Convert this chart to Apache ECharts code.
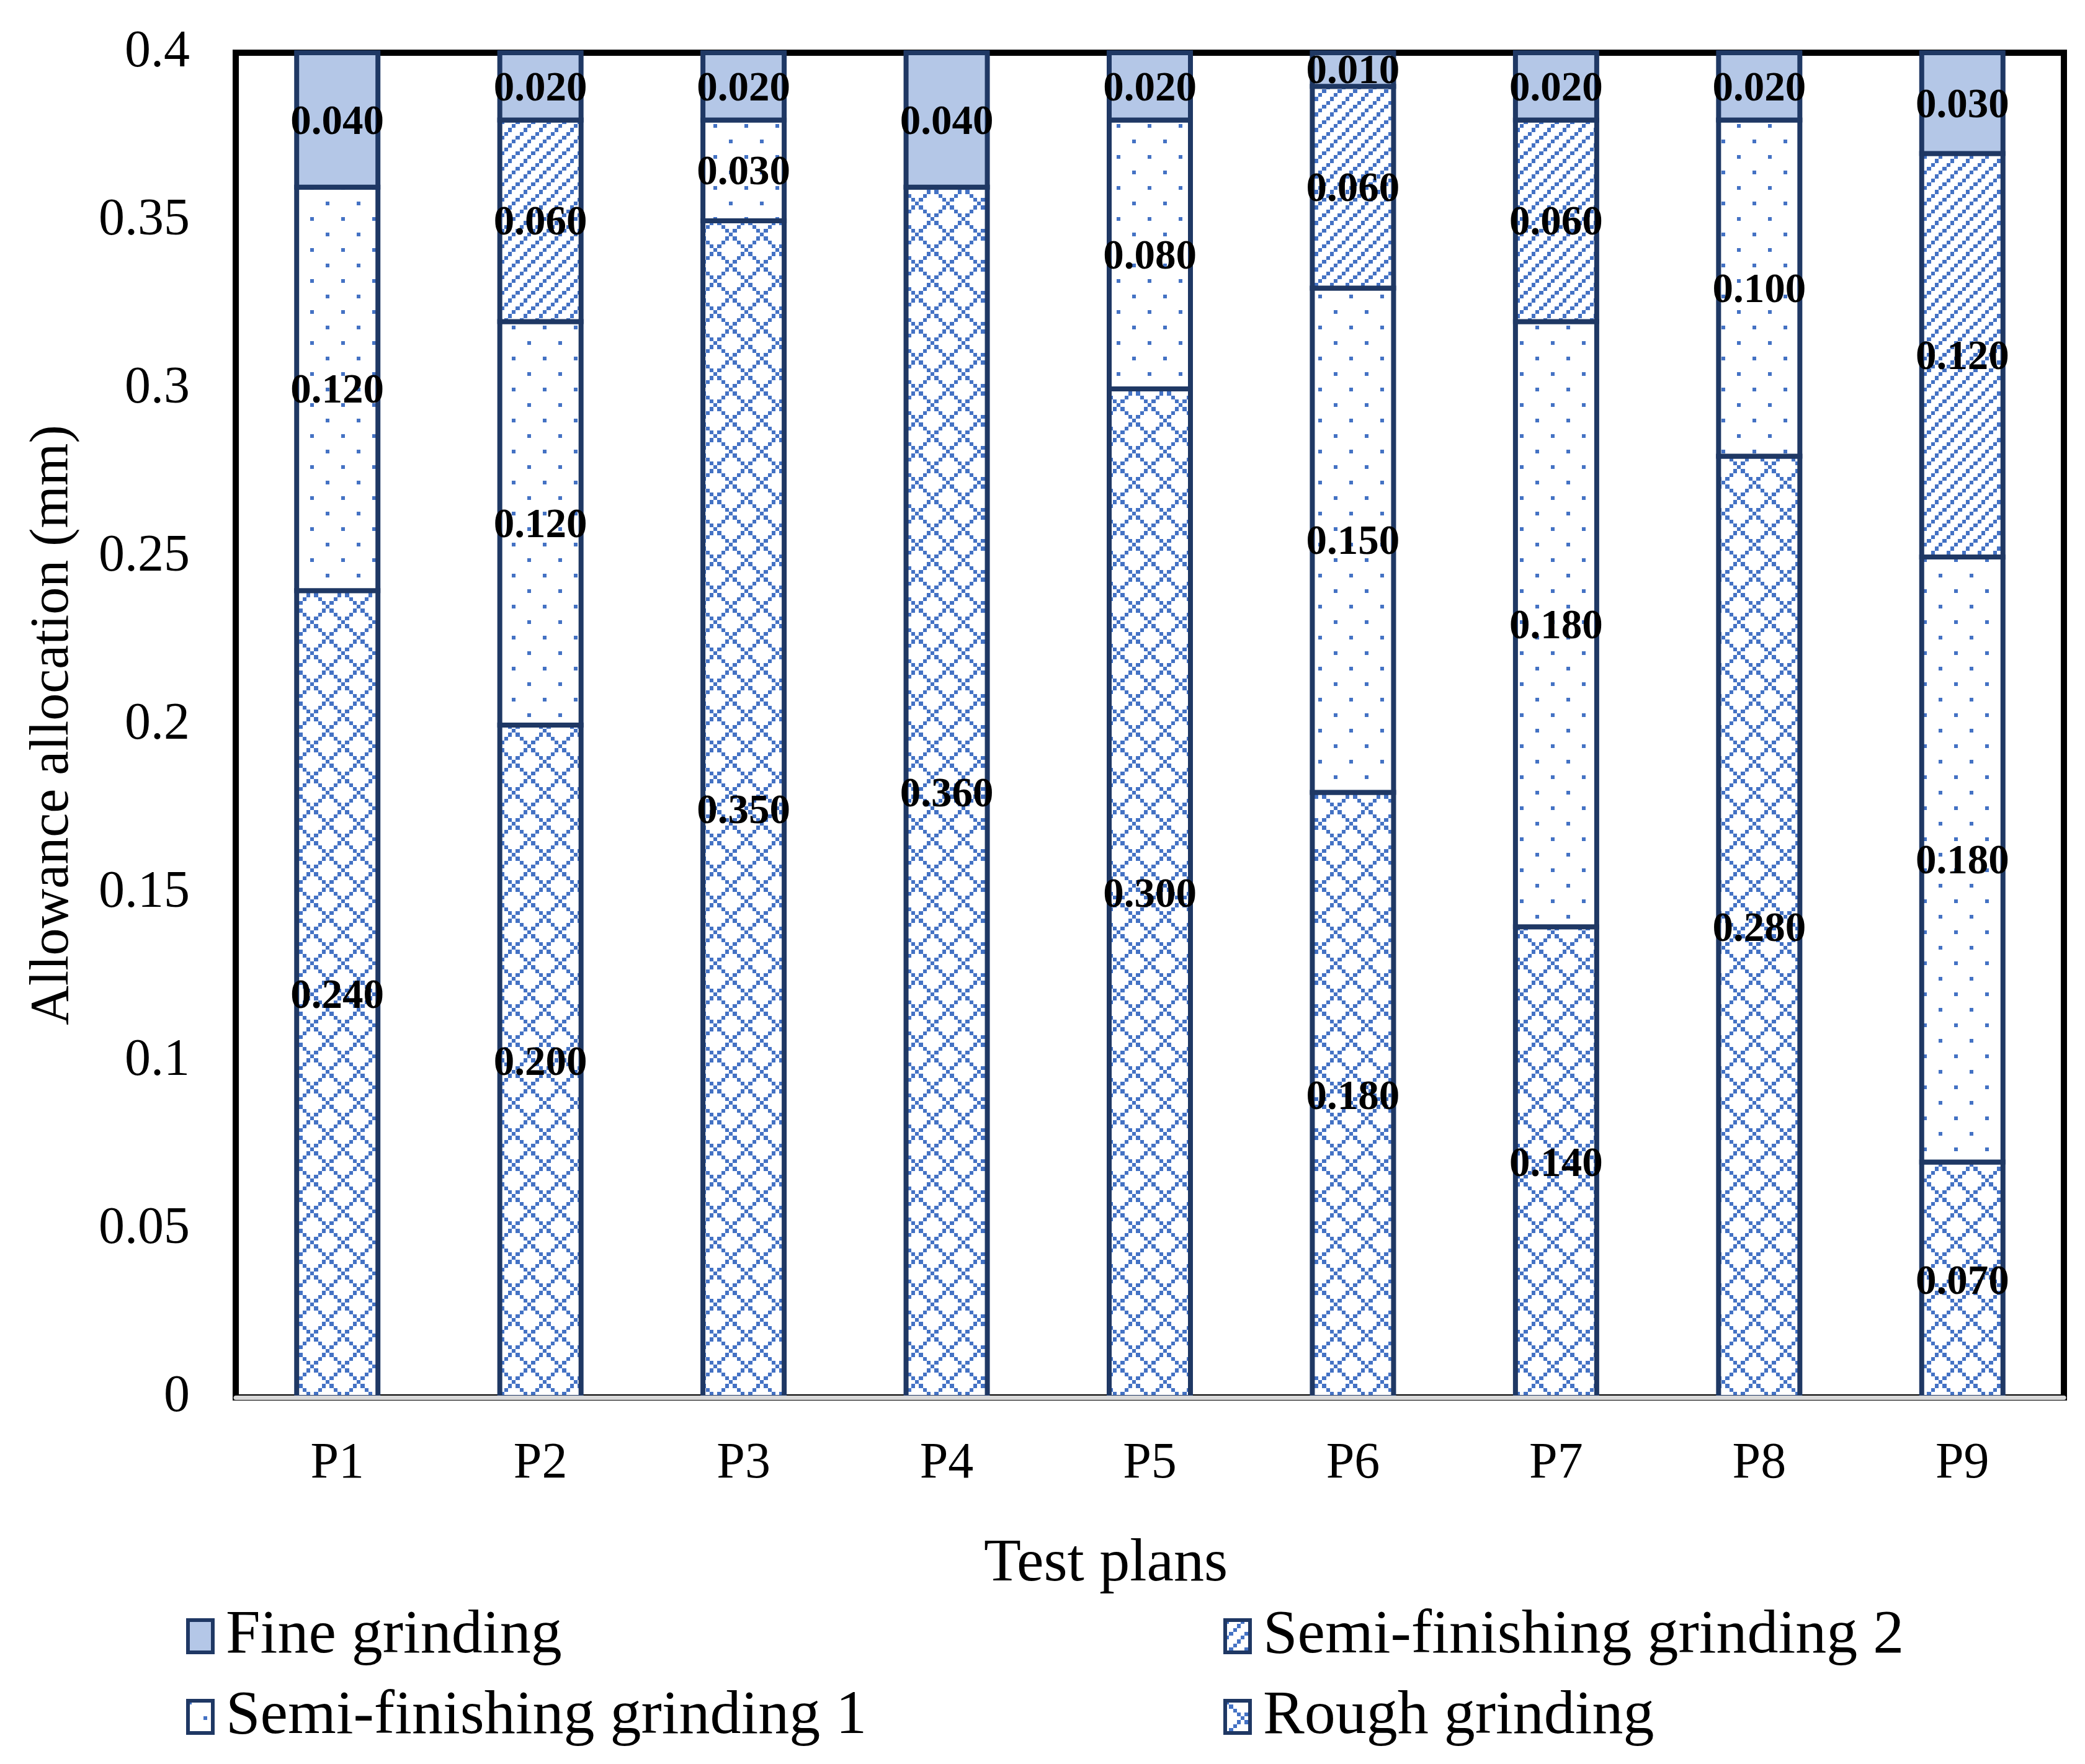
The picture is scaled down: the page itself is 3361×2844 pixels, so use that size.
<!DOCTYPE html>
<html>
<head>
<meta charset="utf-8">
<title>Allowance allocation</title>
<script src="https://cdn.jsdelivr.net/npm/echarts@6/dist/echarts.min.js"></script>
<style>
    html, body { margin: 0; padding: 0; background: #ffffff; }
    #echartContainer { width: 3361px; height: 2844px; }
</style>
</head>
<body>
<div id="echartContainer"></div>
<script>
/* globals echarts */

// =========================================================================
// DATA
// =========================================================================

var plans = ['P1', 'P2', 'P3', 'P4', 'P5', 'P6', 'P7', 'P8', 'P9'];

var roughGrinding = [0.24, 0.20, 0.35, 0.36, 0.30, 0.18, 0.14, 0.28, 0.07];
var semiFinishing1 = [0.12, 0.12, 0.03, null, 0.08, 0.15, 0.18, 0.10, 0.18];
var semiFinishing2 = [null, 0.06, null, null, null, 0.06, 0.06, null, 0.12];
var fineGrinding = [0.04, 0.02, 0.02, 0.04, 0.02, 0.01, 0.02, 0.02, 0.03];

var yMin = 0;
var yMax = 0.4;
var yStep = 0.05;

(function () {

    "use strict";

    var FONT = "'Liberation Serif', 'Times New Roman', serif";
    var BLUE = '#4472C4';
    var NAVY = '#1F3864';
    var BAR_WIDTH = 131;
    var BORDER = 8;

    // Excel-like pattern fills: 8x8 cell tile, cells of 6.25px
    var makePattern = function makePattern(cellOn) {
        var size = 50, cell = size / 8;
        var canvas = document.createElement('canvas');
        canvas.width = size;
        canvas.height = size;
        var ctx = canvas.getContext('2d');
        ctx.fillStyle = '#ffffff';
        ctx.fillRect(0, 0, size, size);
        ctx.fillStyle = BLUE;
        for (var i = 0; i < 8; i++) {
            for (var j = 0; j < 8; j++) {
                if (cellOn(i, j)) {
                    var x0 = Math.round(i * cell), y0 = Math.round(j * cell);
                    var x1 = Math.round((i + 1) * cell), y1 = Math.round((j + 1) * cell);
                    ctx.fillRect(x0, y0, x1 - x0, y1 - y0);
                }
            }
        }
        return { image: canvas, repeat: 'repeat' };
    };

    var diamondFill = makePattern(function (i, j) {
        return (i - j + 8) % 8 === 0 || (i + j) % 8 === 0;
    });
    var dotFill = makePattern(function (i, j) {
        return (i === 0 && j === 0) || (i === 4 && j === 4);
    });
    var diagonalFill = makePattern(function (i, j) {
        return (i + j) % 4 === 0;
    });

    // running stack base per category (bottom to top)
    var stackBase = plans.map(function () { return 0; });

    // ECharts bars inset their border, so stacked dividers would double;
    // a custom series draws the border centred on the segment edge instead
    var makeSeries = function makeSeries(name, values, fill) {
        var data = [];
        values.forEach(function (v, i) {
            if (v == null) {
                return;
            }
            data.push([i, stackBase[i] + v, stackBase[i], v]);
            stackBase[i] += v;
        });
        return {
            name: name,
            type: 'custom',
            itemStyle: { color: fill, borderColor: NAVY, borderWidth: BORDER },
            encode: { x: 0, y: 1 },
            data: data,
            renderItem: function (params, api) {
                var top = api.coord([api.value(0), api.value(1)]);
                var base = api.coord([api.value(0), api.value(2)]);
                return {
                    type: 'rect',
                    shape: {
                        x: top[0] - BAR_WIDTH / 2,
                        y: top[1],
                        width: BAR_WIDTH,
                        height: base[1] - top[1]
                    },
                    style: { fill: fill, stroke: NAVY, lineWidth: BORDER },
                    textContent: {
                        style: {
                            text: api.value(3).toFixed(3),
                            fill: '#000000',
                            font: 'bold 67px ' + FONT
                        }
                    },
                    textConfig: { position: 'inside', offset: [0, 5] }
                };
            }
        };
    };

    var legendBase = {
        orient: 'vertical',
        top: 2583,
        itemWidth: 40,
        itemHeight: 52,
        itemGap: 30,
        icon: 'rect',
        selectedMode: false,
        itemStyle: { borderColor: NAVY, borderWidth: 6 },
        textStyle: {
            fontFamily: FONT,
            fontSize: 100,
            lineHeight: 98,
            color: '#000000',
            padding: [0, 0, 0, 16]
        }
    };

    var chart = echarts.init(document.getElementById('echartContainer'), null, { renderer: 'canvas' });

    chart.setOption({
        backgroundColor: '#ffffff',
        animation: false,
        grid: {
            left: 380,
            right: 34,
            top: 85,
            bottom: 591,
            show: true,
            borderColor: '#000000',
            borderWidth: 10,
            backgroundColor: 'transparent'
        },
        legend: [
            Object.assign({}, legendBase, { left: 295, data: ['Fine grinding', 'Semi-finishing grinding 1'] }),
            Object.assign({}, legendBase, { left: 1967, data: ['Semi-finishing grinding 2', 'Rough grinding'] })
        ],
        xAxis: {
            type: 'category',
            data: plans,
            z: 5,
            name: 'Test plans',
            nameLocation: 'middle',
            nameGap: 220,
            nameTextStyle: {
                fontFamily: FONT,
                fontSize: 98,
                color: '#000000',
                padding: [0, 142, 0, 0]
            },
            axisLine: { show: true, lineStyle: { color: '#D9D9D9', width: 7 } },
            axisTick: { show: false },
            axisLabel: {
                margin: 66,
                fontFamily: FONT,
                fontSize: 82,
                color: '#000000'
            }
        },
        yAxis: {
            type: 'value',
            min: yMin,
            max: yMax,
            interval: yStep,
            name: 'Allowance allocation (mm)',
            nameLocation: 'middle',
            nameGap: 250,
            nameTextStyle: {
                fontFamily: FONT,
                fontSize: 88,
                color: '#000000'
            },
            axisLine: { show: false },
            axisTick: { show: false },
            splitLine: { show: false },
            axisLabel: {
                margin: 74,
                fontFamily: FONT,
                fontSize: 84,
                color: '#000000'
            }
        },
        series: [
            makeSeries('Rough grinding', roughGrinding, diamondFill),
            makeSeries('Semi-finishing grinding 1', semiFinishing1, dotFill),
            makeSeries('Semi-finishing grinding 2', semiFinishing2, diagonalFill),
            makeSeries('Fine grinding', fineGrinding, '#B4C7E7')
        ]
    });
})();
</script>
</body>
</html>
